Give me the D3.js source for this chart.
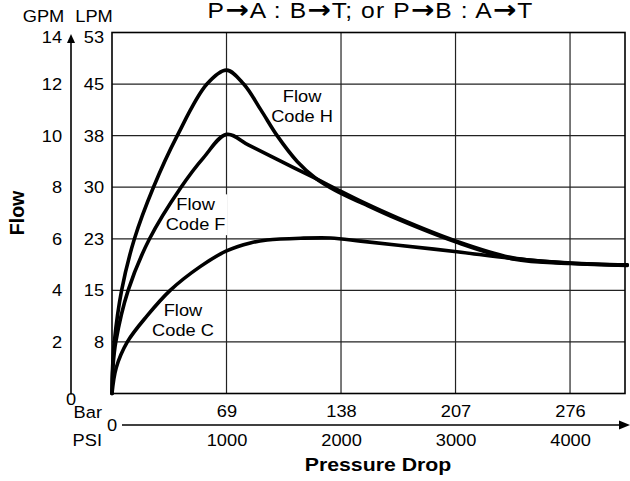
<!DOCTYPE html>
<html>
<head>
<meta charset="utf-8">
<script src="https://cdn.jsdelivr.net/npm/d3@7"></script>
<style>
body { margin: 0; background: #fff; }
svg { display: block; font-family: "Liberation Sans", Arial, Helvetica, sans-serif; }
.grid line { stroke: #222; stroke-width: 1.2; }
.curve { fill: none; stroke: #000; stroke-width: 3.6; stroke-linejoin: round; stroke-linecap: round; }
</style>
</head>
<body>
<script>
var w = 630;
var h = 481;
var sx = 1.12; // the source picture is stretched sideways

// data: pressure drop (PSI) and flow (GPM)
var psiH = [0, 5, 20, 84, 196, 362, 570, 829, 1000, 1150, 1300, 1442, 1617, 1778, 1950, 2200, 2500, 3000, 3500, 4000, 4500];
var gpmH = [0, 1, 2, 4, 6, 8, 10, 12, 12.54, 12, 11, 10, 9.0, 8.35, 7.88, 7.35, 6.75, 5.88, 5.22, 5.04, 4.97];

var psiF = [0, 8, 33, 141, 328, 603, 800, 1000, 1194, 1486, 1778, 1950, 2200, 2500, 3000, 3500, 4000, 4500];
var gpmF = [0, 1, 2, 4, 6, 8, 9.15, 10.05, 9.63, 8.98, 8.34, 7.95, 7.4, 6.8, 5.92, 5.26, 5.06, 4.99];

var psiC = [0, 37, 134, 304, 508, 770, 1000, 1208, 1355, 1646, 1909, 2172, 2500, 3012, 3485, 4010, 4500];
var gpmC = [0, 1, 2, 3.0, 4, 4.92, 5.53, 5.84, 5.95, 6.02, 6.03, 5.91, 5.75, 5.5, 5.24, 5.05, 4.98];

// tick labels
var psiTicks = [1000, 2000, 3000, 4000];
var barLabels = ["69", "138", "207", "276"];
var gpmTicks = [2, 4, 6, 8, 10, 12, 14];
var lpmLabels = ["8", "15", "23", "30", "38", "45", "53"];

// title pieces, arrows set in another font
var titleParts = ["P", "\u2192", "A : B", "\u2192", "T; or P", "\u2192", "B : A", "\u2192", "T"];

// curve labels: [psi, gpm of first line, line1, line2, white box]
var curveLabels = [
    [1660, 11.3, "Flow", "Code H", false],
    [730, 7.1, "Flow", "Code F", true],
    [620, 3.0, "Flow", "Code C", false]
];

var svg = d3.select("body")
    .append("svg")
    .attr("width", w)
    .attr("height", h);

var xScale = d3.scaleLinear()
    .domain([0, 4480])
    .range([112, 625]);

var yScale = d3.scaleLinear()
    .domain([0, 14])
    .range([393.5, 32.5]);

function label(parent, x, y, s, size, anchor, weight) {
    return parent.append("text")
        .attr("transform", "translate(" + x + "," + y + ") scale(" + sx + ",1)")
        .attr("text-anchor", anchor || "middle")
        .style("font-size", size + "px")
        .style("font-weight", weight || "normal")
        .text(s);
}

//grid
var grid = svg.append("g").attr("class", "grid");
grid.selectAll(".vx")
    .data(psiTicks)
    .enter()
    .append("line")
    .attr("x1", d => xScale(d))
    .attr("x2", d => xScale(d))
    .attr("y1", yScale(0))
    .attr("y2", yScale(14));
grid.selectAll(".hy")
    .data(gpmTicks.slice(0, -1))
    .enter()
    .append("line")
    .attr("x1", xScale(0))
    .attr("x2", xScale(4480))
    .attr("y1", d => yScale(d))
    .attr("y2", d => yScale(d));

svg.append("rect")
    .attr("x", xScale(0))
    .attr("y", yScale(14))
    .attr("width", xScale(4480) - xScale(0))
    .attr("height", yScale(0) - yScale(14))
    .attr("fill", "none")
    .attr("stroke", "#000")
    .attr("stroke-width", 1.6);

//curve labels
curveLabels.forEach(function(c) {
    var g = svg.append("g");
    var cx = xScale(c[0]), cy = yScale(c[1]);
    label(g, cx, cy, c[2], 16.3);
    label(g, cx, cy + 20, c[3], 16.3);
    if (c[4]) {
        var b = g.node().getBBox();
        g.insert("rect", "text")
            .attr("x", b.x - 2)
            .attr("y", b.y - 1)
            .attr("width", b.width + 4)
            .attr("height", b.height + 2)
            .attr("fill", "#fff");
    }
});

//curves
var line = d3.line()
    .x(d => xScale(d[0]))
    .y(d => yScale(d[1]))
    .curve(d3.curveCatmullRom.alpha(0.5));

[[psiC, gpmC], [psiF, gpmF], [psiH, gpmH]].forEach(function(s) {
    svg.append("path")
        .datum(d3.zip(s[0], s[1]))
        .attr("class", "curve")
        .attr("d", line);
});

//left axes
var gpmAxis = svg.append("g")
    .attr("transform", "translate(71,0)")
    .call(d3.axisLeft(yScale).tickValues(gpmTicks).tickSize(0).tickPadding(8));
var lpmAxis = svg.append("g")
    .attr("transform", "translate(" + xScale(0) + ",0)")
    .call(d3.axisLeft(yScale).tickValues(gpmTicks).tickSize(0).tickPadding(7)
        .tickFormat((d, i) => lpmLabels[i]));
[gpmAxis, lpmAxis].forEach(function(a) {
    a.select(".domain").remove();
    a.selectAll(".tick text")
        .attr("transform", "scale(" + sx + ",1)")
        .attr("fill", "#000")
        .style("font-size", "16.3px")
        .style("font-family", null)
        .attr("dy", d => d == 14 ? "0.62em" : "0.34em");
});

// vertical flow arrow
svg.append("line")
    .attr("x1", 71).attr("x2", 71)
    .attr("y1", yScale(0) + 1).attr("y2", 40)
    .attr("stroke", "#000").attr("stroke-width", 1.6);
svg.append("path")
    .attr("d", "M71,34 L67,43 L75,43 Z")
    .attr("fill", "#000");
label(svg, 71, yScale(0) + 11, "0", 16.3);

//bottom axis
var axisY = 425;
svg.append("line")
    .attr("x1", 122).attr("x2", 621)
    .attr("y1", axisY).attr("y2", axisY)
    .attr("stroke", "#000").attr("stroke-width", 1.6);
svg.append("path")
    .attr("d", "M630," + axisY + " L619," + (axisY - 4.5) + " L619," + (axisY + 4.5) + " Z")
    .attr("fill", "#000");

var barAxis = svg.append("g")
    .attr("transform", "translate(0," + axisY + ")")
    .call(d3.axisTop(xScale).tickValues(psiTicks).tickSize(0).tickPadding(8)
        .tickFormat((d, i) => barLabels[i]));
var psiAxis = svg.append("g")
    .attr("transform", "translate(0," + axisY + ")")
    .call(d3.axisBottom(xScale).tickValues(psiTicks).tickSize(0).tickPadding(9)
        .tickFormat(d3.format("d")));
[barAxis, psiAxis].forEach(function(a) {
    a.select(".domain").remove();
    a.selectAll(".tick text")
        .attr("transform", "scale(" + sx + ",1)")
        .attr("fill", "#000")
        .style("font-size", "16.3px")
        .style("font-family", null);
});

label(svg, xScale(0), axisY + 6, "0", 16.3);
label(svg, 102, 418, "Bar", 16.3, "end");
label(svg, 102, 446, "PSI", 16.3, "end");

//titles & labels
var title = label(svg, 370, 18, "", 22)
    .attr("textLength", 290)
    .attr("lengthAdjust", "spacing");
title.selectAll("tspan")
    .data(titleParts)
    .enter()
    .append("tspan")
    .style("font-family", (d, i) => i % 2 ? "'DejaVu Sans'" : null)
    .style("font-weight", (d, i) => i % 2 ? "bold" : null)
    .style("font-size", (d, i) => i % 2 ? "25px" : null)
    .text(d => d);
label(svg, 43.5, 21.5, "GPM", 16.3);
label(svg, 94, 21.5, "LPM", 16.3);
label(svg, 378, 471, "Pressure Drop", 19, "middle", "bold");

svg.append("text")
    .attr("transform", "translate(24,213) rotate(-90)")
    .attr("text-anchor", "middle")
    .style("font-size", "19.5px")
    .style("font-weight", "bold")
    .text("Flow");
</script>
</body>
</html>
